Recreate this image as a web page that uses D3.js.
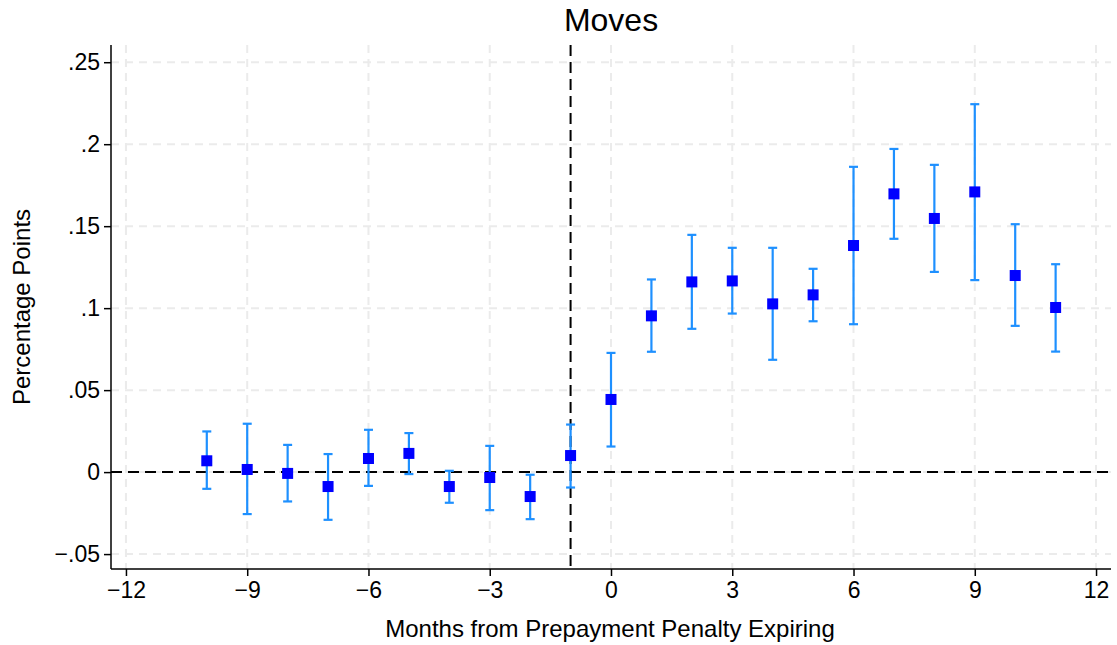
<!DOCTYPE html>
<html>
<head>
<meta charset="utf-8">
<script src="https://cdn.jsdelivr.net/npm/d3@7"></script>
<style>
  body { margin: 0; background: #fff; }
  text { font-family: "Liberation Sans", Arial, Helvetica, sans-serif; fill: #000; }
</style>
</head>
<body>
<script>
// Data
var months = [-10, -9, -8, -7, -6, -5, -4, -3, -2, -1, 0, 1, 2, 3, 4, 5, 6, 7, 8, 9, 10, 11];
var estimates = [0.0069, 0.0016, -0.0008, -0.0088, 0.0083, 0.0114, -0.0088, -0.0033, -0.0149, 0.0101,
  0.0443, 0.0953, 0.1160, 0.1166, 0.1026, 0.1081, 0.1382, 0.1697, 0.1547, 0.1709, 0.1199, 0.1004];
var upper = [0.0248, 0.0295, 0.0166, 0.0110, 0.0258, 0.0238, 0.0008, 0.0160, -0.0016, 0.0290,
  0.0727, 0.1175, 0.1447, 0.1368, 0.1368, 0.1240, 0.1862, 0.1971, 0.1874, 0.2244, 0.1512, 0.1268];
var lower = [-0.0102, -0.0256, -0.0179, -0.0291, -0.0084, -0.0012, -0.0187, -0.0232, -0.0287, -0.0094,
  0.0156, 0.0734, 0.0874, 0.0967, 0.0685, 0.0920, 0.0902, 0.1423, 0.1221, 0.1171, 0.0892, 0.0735];
var xTicks = [-12, -9, -6, -3, 0, 3, 6, 9, 12];
var yTicks = [-0.05, 0, 0.05, 0.1, 0.15, 0.2, 0.25];
var yTickLabels = ["\u2212.05", "0", ".05", ".1", ".15", ".2", ".25"];
var eventMonth = -1;

var svgWidth = 1117;
var svgHeight = 645;

var margin = { top: 45, right: 6, bottom: 76, left: 111 };
var chartWidth = svgWidth - margin.left - margin.right;
var chartHeight = svgHeight - margin.top - margin.bottom;

var svg = d3.select("body")
  .append("svg")
  .attr("width", svgWidth)
  .attr("height", svgHeight);

var chartGroup = svg.append("g")
  .attr("transform", `translate(${margin.left}, ${margin.top})`);

var xScale = d3.scaleLinear()
  .domain([-12.37, 12.37])
  .range([0, chartWidth]);

var yScale = d3.scaleLinear()
  .domain([-0.0591, 0.2605])
  .range([chartHeight, 0]);

// grid lines
chartGroup.append("g").selectAll("line")
  .data(yTicks)
  .join("line")
  .attr("x1", 0).attr("x2", chartWidth)
  .attr("y1", d => yScale(d)).attr("y2", d => yScale(d))
  .attr("stroke", "#ebebeb").attr("stroke-width", 2)
  .attr("stroke-dasharray", "8,6");

chartGroup.append("g").selectAll("line")
  .data(xTicks)
  .join("line")
  .attr("x1", d => xScale(d)).attr("x2", d => xScale(d))
  .attr("y1", 0).attr("y2", chartHeight)
  .attr("stroke", "#ebebeb").attr("stroke-width", 2)
  .attr("stroke-dasharray", "8,6");

// reference lines
chartGroup.append("line")
  .attr("x1", 0).attr("x2", chartWidth)
  .attr("y1", yScale(0)).attr("y2", yScale(0))
  .attr("stroke", "#000").attr("stroke-width", 2)
  .attr("stroke-dasharray", "11,6");

chartGroup.append("line")
  .attr("x1", xScale(eventMonth)).attr("x2", xScale(eventMonth))
  .attr("y1", 0).attr("y2", chartHeight)
  .attr("stroke", "#000").attr("stroke-width", 2)
  .attr("stroke-dasharray", "11,6");

// error bars
var bars = chartGroup.append("g").selectAll("g")
  .data(months)
  .join("g");

bars.append("line")
  .attr("x1", d => xScale(d)).attr("x2", d => xScale(d))
  .attr("y1", (d, i) => yScale(upper[i])).attr("y2", (d, i) => yScale(lower[i]))
  .attr("stroke", "#1e90ff").attr("stroke-width", 2.2);

bars.append("line")
  .attr("x1", d => xScale(d) - 4.5).attr("x2", d => xScale(d) + 4.5)
  .attr("y1", (d, i) => yScale(upper[i])).attr("y2", (d, i) => yScale(upper[i]))
  .attr("stroke", "#1e90ff").attr("stroke-width", 2.2);

bars.append("line")
  .attr("x1", d => xScale(d) - 4.5).attr("x2", d => xScale(d) + 4.5)
  .attr("y1", (d, i) => yScale(lower[i])).attr("y2", (d, i) => yScale(lower[i]))
  .attr("stroke", "#1e90ff").attr("stroke-width", 2.2);

// point estimates
chartGroup.append("g").selectAll("rect")
  .data(months)
  .join("rect")
  .attr("x", d => xScale(d) - 5.5)
  .attr("y", (d, i) => yScale(estimates[i]) - 5.5)
  .attr("width", 11).attr("height", 11)
  .attr("fill", "#0000ff");

// axes
var leftAxis = d3.axisLeft(yScale)
  .tickValues(yTicks)
  .tickFormat((d, i) => yTickLabels[i])
  .tickSize(7).tickPadding(4);

var bottomAxis = d3.axisBottom(xScale)
  .tickValues(xTicks)
  .tickFormat(d => d < 0 ? "\u2212" + Math.abs(d) : d)
  .tickSize(7).tickPadding(6);

var yAxisG = chartGroup.append("g")
  .call(leftAxis);

var xAxisG = chartGroup.append("g")
  .attr("transform", "translate(0, " + chartHeight + ")")
  .call(bottomAxis);

[yAxisG, xAxisG].forEach(function(g) {
  g.select(".domain").attr("stroke", "#000").attr("stroke-width", 1.5);
  g.selectAll(".tick line").attr("stroke", "#000").attr("stroke-width", 1.5);
  g.selectAll(".tick text").attr("font-size", 23).attr("fill", "#000")
    .attr("font-family", "Liberation Sans, Arial, sans-serif");
});
yAxisG.select(".domain").attr("d", "M0," + chartHeight + "V0");
xAxisG.select(".domain").attr("d", "M0,0H" + chartWidth);

// titles
svg.append("text")
  .attr("x", 611).attr("y", 31)
  .attr("text-anchor", "middle")
  .attr("font-size", 32)
  .text("Moves");

svg.append("text")
  .attr("x", 610).attr("y", 637)
  .attr("text-anchor", "middle")
  .attr("font-size", 24)
  .text("Months from Prepayment Penalty Expiring");

svg.append("text")
  .attr("transform", "translate(30, 307) rotate(-90)")
  .attr("text-anchor", "middle")
  .attr("font-size", 24)
  .text("Percentage Points");
</script>
</body>
</html>
